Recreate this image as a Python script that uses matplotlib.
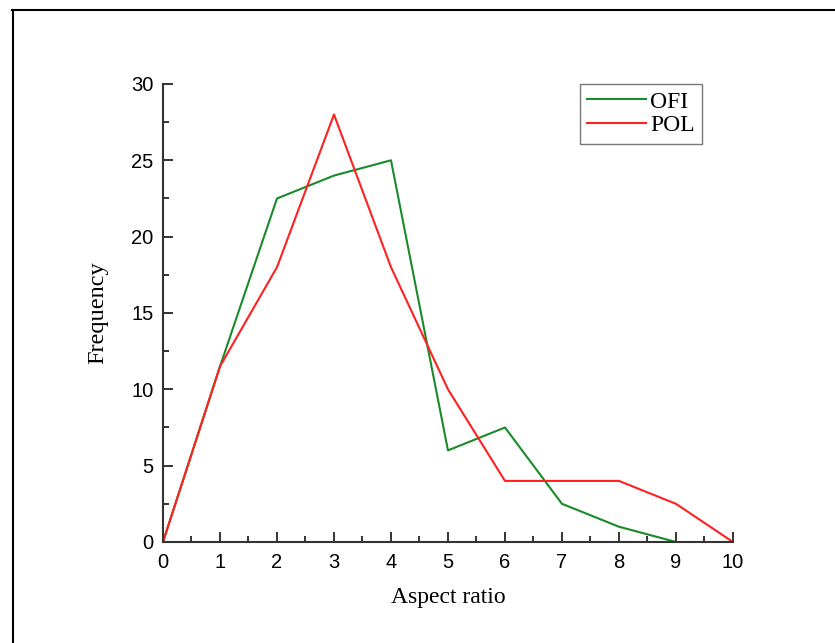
import matplotlib
matplotlib.use("Agg")
import matplotlib.pyplot as plt
from matplotlib.lines import Line2D
from matplotlib.ticker import MultipleLocator

ofi_x = [0, 1, 2, 3, 4, 5, 6, 7, 8, 9]
ofi_y = [0, 11.5, 22.5, 24, 25, 6, 7.5, 2.5, 1, 0]
pol_x = [0, 1, 2, 3, 4, 5, 6, 7, 8, 9, 10]
pol_y = [0, 11.5, 18, 28, 18, 10, 4, 4, 4, 2.5, 0]

fig = plt.figure(figsize=(8.35, 6.43), dpi=100)
ax = fig.add_axes([0.1952, 0.1571, 0.6826, 0.7123])

ax.plot(ofi_x, ofi_y, color="#1a8a2a", lw=1.5, label="OFI")
ax.plot(pol_x, pol_y, color="#ff2020", lw=1.5, label="POL")

ax.set_xlim(0, 10)
ax.set_ylim(0, 30)
ax.xaxis.set_major_locator(MultipleLocator(1))
ax.xaxis.set_minor_locator(MultipleLocator(0.5))
ax.yaxis.set_major_locator(MultipleLocator(5))
ax.yaxis.set_minor_locator(MultipleLocator(2.5))

for s in ["top", "right"]:
    ax.spines[s].set_visible(False)
for s in ["left", "bottom"]:
    ax.spines[s].set_linewidth(1.5)
    ax.spines[s].set_color("#333333")

ax.tick_params(which="both", direction="in", color="#333333", width=1.4)
ax.tick_params(which="major", length=7, labelsize=14.5)
ax.tick_params(which="minor", length=4)
ax.tick_params(axis="x", which="major", pad=8)
ax.tick_params(axis="y", which="major", pad=7)
for lab in ax.get_xticklabels() + ax.get_yticklabels():
    lab.set_family("Liberation Sans")

ax.set_xlabel("Aspect ratio", family="Liberation Serif", fontsize=17, labelpad=11)
ax.set_ylabel("Frequency", family="Liberation Serif", fontsize=17.5, labelpad=16)

leg = ax.legend(loc="upper right", bbox_to_anchor=(0.945, 1.0), borderaxespad=0,
                fancybox=False, prop={"family": "Liberation Serif", "size": 17},
                handlelength=2.5, handletextpad=0.15, borderpad=0.3, labelspacing=0.1)
leg.get_frame().set_edgecolor("#555555")
leg.get_frame().set_linewidth(1.0)

# page frame lines (top and left)
fig.add_artist(Line2D([12 / 835, 1], [1 - 10 / 643, 1 - 10 / 643], color="black", lw=1.5))
fig.add_artist(Line2D([13 / 835, 13 / 835], [0, 1 - 10 / 643], color="black", lw=1.5))

fig.savefig("out.png", dpi=100)
